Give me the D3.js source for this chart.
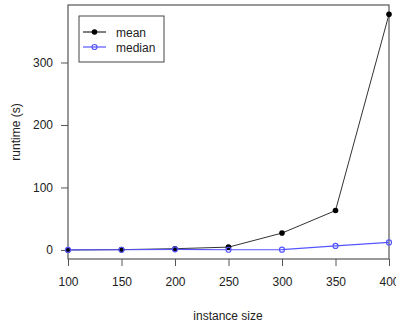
<!DOCTYPE html>
<html lang="en">
<head>
<meta charset="UTF-8">
<title>runtime</title>
<script src="https://cdn.jsdelivr.net/npm/d3@7"></script>
<style>
  body { margin: 0; background: #fff; }
  svg text { font-family: "Liberation Sans", Arial, sans-serif; fill: #222; }
</style>
</head>
<body>
<svg id="chart" width="396" height="325"></svg>
<script>
    /* global d3 */
    var sizes = [100, 150, 200, 250, 300, 350, 400];
    var meanVals = [0, 0.5, 2, 4.5, 27, 63, 377];
    var medianVals = [0, 0.3, 1, 0.3, 0.5, 6.5, 12];
    var xTicks = [100, 150, 200, 250, 300, 350, 400];
    var yTicks = [0, 100, 200, 300];

    var svg = d3.select("#chart"),
        plotLeft = 68, plotRight = 389, plotTop = 5, plotBottom = 259;

    var x = d3.scaleLinear().domain([100, 400]).range([plotLeft, plotRight]);
    var y = d3.scaleLinear().domain([-14.5, 392]).range([plotBottom, plotTop]);

    // box
    svg.append("rect")
        .attr("x", plotLeft).attr("y", plotTop)
        .attr("width", plotRight - plotLeft).attr("height", plotBottom - plotTop)
        .attr("fill", "none").attr("stroke", "#555").attr("stroke-width", 1.2);

    var xAxis = svg.append("g")
        .attr("transform", "translate(0," + plotBottom + ")")
        .call(d3.axisBottom(x).tickValues(xTicks).tickSize(7).tickPadding(11).tickFormat(d3.format("d")));
    xAxis.select(".domain").remove();
    xAxis.selectAll("line").attr("stroke", "#555");
    xAxis.selectAll("text").style("font-size", "12px").style("font-family", "Liberation Sans, Arial, sans-serif").attr("fill", "#222");

    var yAxis = svg.append("g")
        .attr("transform", "translate(" + plotLeft + ",0)")
        .call(d3.axisLeft(y).tickValues(yTicks).tickSize(7).tickPadding(8));
    yAxis.select(".domain").remove();
    yAxis.selectAll("line").attr("stroke", "#555");
    yAxis.selectAll("text").style("font-size", "12px").style("font-family", "Liberation Sans, Arial, sans-serif").attr("fill", "#222");

    var line = d3.line().x(function (d, i) { return x(sizes[i]); }).y(function (d) { return y(d); });

    svg.append("path").datum(meanVals)
        .attr("d", line).attr("fill", "none").attr("stroke", "#333").attr("stroke-width", 1);
    svg.append("path").datum(medianVals)
        .attr("d", line).attr("fill", "none").attr("stroke", "#5555ff").attr("stroke-width", 1.2);

    svg.selectAll(".mpt").data(meanVals).enter().append("circle")
        .attr("cx", function (d, i) { return x(sizes[i]); })
        .attr("cy", function (d) { return y(d); })
        .attr("r", 2.8).attr("fill", "#000");
    svg.selectAll(".dpt").data(medianVals).enter().append("circle")
        .attr("cx", function (d, i) { return x(sizes[i]); })
        .attr("cy", function (d) { return y(d); })
        .attr("r", 2.5).attr("fill", "none").attr("stroke", "#5555ff").attr("stroke-width", 1.2);

    // legend
    var lg = svg.append("g");
    lg.append("rect").attr("x", 79).attr("y", 16).attr("width", 85).attr("height", 46)
        .attr("fill", "#fff").attr("stroke", "#444").attr("stroke-width", 1);
    lg.append("line").attr("x1", 83).attr("x2", 106).attr("y1", 32).attr("y2", 32).attr("stroke", "#000");
    lg.append("circle").attr("cx", 94.5).attr("cy", 32).attr("r", 2.8).attr("fill", "#000");
    lg.append("line").attr("x1", 83).attr("x2", 106).attr("y1", 47).attr("y2", 47).attr("stroke", "#5555ff").attr("stroke-width", 1.2);
    lg.append("circle").attr("cx", 94.5).attr("cy", 47).attr("r", 2.5).attr("fill", "none").attr("stroke", "#5555ff").attr("stroke-width", 1.2);
    lg.append("text").attr("x", 116).attr("y", 36.5).style("font-size", "12px").text("mean");
    lg.append("text").attr("x", 116).attr("y", 51.5).style("font-size", "12px").text("median");

    svg.append("text").attr("x", 228).attr("y", 320).attr("text-anchor", "middle")
        .style("font-size", "12px").text("instance size");
    svg.append("text").attr("transform", "translate(20,132) rotate(-90)").attr("text-anchor", "middle")
        .style("font-size", "12px").text("runtime (s)");
</script>
</body>
</html>
